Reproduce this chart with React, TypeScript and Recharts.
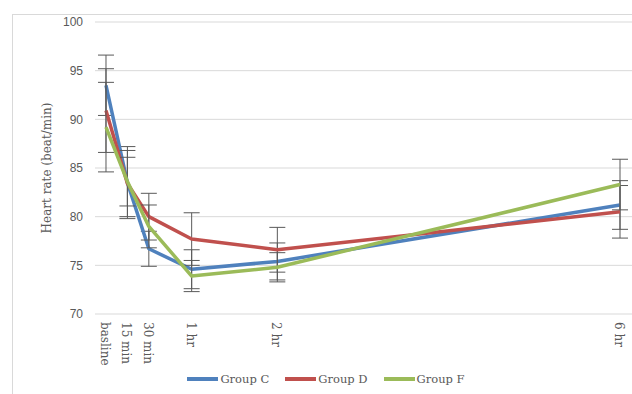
import React from "react";
import { CartesianGrid, ErrorBar, Label, Line, LineChart, XAxis, YAxis } from "recharts";

// minutes after baseline, and how the x axis names them
const times = [0, 15, 30, 60, 120, 360];
const timeLabels = ["basline", "15 min", "30 min", "1 hr", "2 hr", "6 hr"];

const groupC = [93.5, 83.5, 76.7, 74.6, 75.4, 81.2];
const groupCErr = [3.1, 3.7, 1.8, 2.0, 1.9, 2.5];
const groupD = [90.9, 83.4, 80.0, 77.7, 76.6, 80.5];
const groupDErr = [4.3, 3.4, 2.4, 2.7, 2.3, 2.7];
const groupF = [89.2, 83.6, 79.0, 73.9, 74.8, 83.3];
const groupFErr = [4.6, 2.5, 2.2, 1.6, 1.5, 2.6];

const yTicks = [70, 75, 80, 85, 90, 95, 100];

const series = [
  { key: "c", name: "Group C", color: "#4f81bd" },
  { key: "d", name: "Group D", color: "#c0504d" },
  { key: "f", name: "Group F", color: "#9bbb59" },
];

const data = times.map((t, i) => ({
  t,
  c: groupC[i],
  cErr: groupCErr[i],
  d: groupD[i],
  dErr: groupDErr[i],
  f: groupF[i],
  fErr: groupFErr[i],
}));

const serif = "'DejaVu Serif', serif";

const TimeTick = (props: any) => {
  const { x, y, payload } = props;
  const idx = times.indexOf(payload.value);
  return (
    <text
      x={x - 1}
      y={y}
      transform={`rotate(90, ${x - 1}, ${y})`}
      textAnchor="start"
      dominantBaseline="central"
      fill="#595959"
      fontSize={12}
      fontFamily={serif}
    >
      {timeLabels[idx]}
    </text>
  );
};

export default function App() {
  return (
    <div
      style={{
        position: "absolute",
        left: 0,
        top: 0,
        width: 632,
        height: 394,
        overflow: "hidden",
        background: "#fff",
      }}
    >
      <div
        style={{
          position: "absolute",
          left: 12,
          top: 14,
          width: 640,
          height: 420,
          border: "1px solid #d9d9d9",
        }}
      />
      <div style={{ position: "absolute", left: 0, top: 0 }}>
        <LineChart
          width={632}
          height={394}
          data={data}
          margin={{ top: 22, right: 0, left: 35, bottom: 20 }}
        >
          <CartesianGrid vertical={false} stroke="#d9d9d9" />
          <XAxis
            dataKey="t"
            type="number"
            domain={[-7.7, 368.4]}
            allowDataOverflow
            ticks={times}
            interval={0}
            height={60}
            axisLine={false}
            tickLine={false}
            tick={<TimeTick />}
          />
          <YAxis
            domain={[70, 100]}
            ticks={yTicks}
            width={60}
            axisLine={false}
            tickLine={false}
            tickMargin={6}
            tick={{ fill: "#595959", fontSize: 12, fontFamily: "'Liberation Sans', sans-serif" }}
          >
            <Label
              content={() => (
                <text
                  x={47}
                  y={168}
                  transform="rotate(-90, 47, 168)"
                  textAnchor="middle"
                  dominantBaseline="central"
                  fill="#595959"
                  fontSize={12}
                  fontFamily={serif}
                >
                  Heart rate (beat/min)
                </text>
              )}
            />
          </YAxis>
          {series.map((s) => (
            <Line
              key={s.key}
              type="linear"
              dataKey={s.key}
              name={s.name}
              stroke={s.color}
              strokeWidth={3.5}
              strokeLinejoin="round"
              dot={false}
              activeDot={false}
              isAnimationActive={false}
            >
              <ErrorBar
                dataKey={s.key + "Err"}
                direction="y"
                width={8}
                stroke="#595959"
                strokeWidth={1}
              />
            </Line>
          ))}
        </LineChart>
      </div>
      <div
        style={{
          position: "absolute",
          left: 12,
          top: 372,
          width: 628,
          display: "flex",
          justifyContent: "center",
          gap: 16,
          fontFamily: serif,
          fontSize: 11.5,
          color: "#595959",
        }}
      >
        {series.map((s) => (
          <div key={s.key} style={{ display: "flex", alignItems: "center", gap: 2 }}>
            <div style={{ width: 31, height: 4, background: s.color }} />
            <span>{s.name}</span>
          </div>
        ))}
      </div>
    </div>
  );
}
